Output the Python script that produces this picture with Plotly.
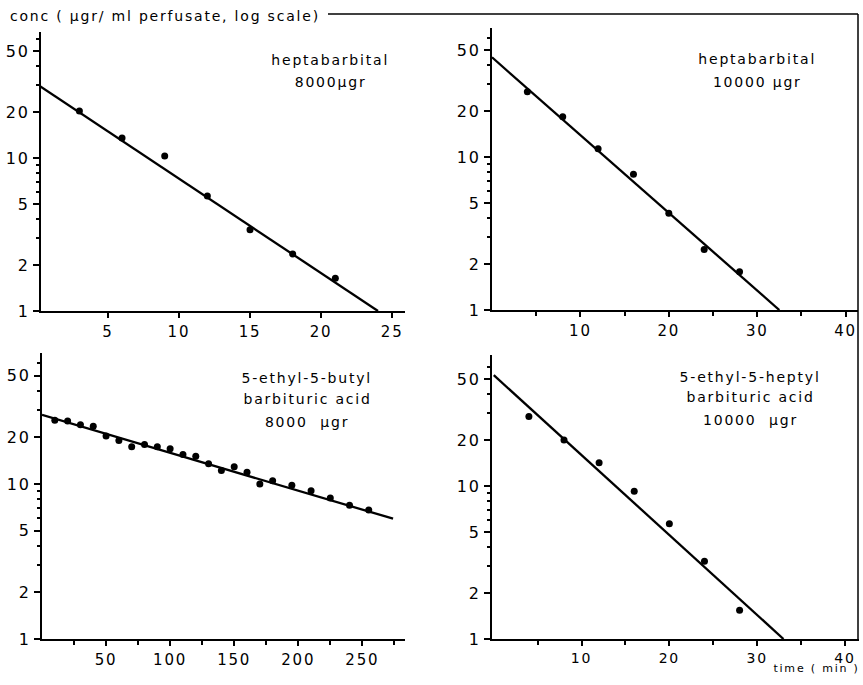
import plotly.graph_objects as go
from plotly.subplots import make_subplots

# Panel data (time, conc in ugr/ml)
hb8_time = [3, 6, 9, 12, 15, 18, 21]
hb8_conc = [20.3, 13.5, 10.3, 5.65, 3.4, 2.36, 1.64]
hb8_fit_time = [0, 24]
hb8_fit_conc = [30.5, 1.0]

hb10_time = [4, 8, 12, 16, 20, 24, 28]
hb10_conc = [26.7, 18.3, 11.3, 7.7, 4.29, 2.49, 1.78]
hb10_fit_time = [0, 32.5]
hb10_fit_conc = [44.8, 1.0]

eb_time = [10, 20, 30, 40, 50, 60, 70, 80, 90, 100, 110, 120, 130, 140,
           150, 160, 170, 180, 195, 210, 225, 240, 255]
eb_conc = [25.8, 25.5, 24.1, 23.6, 20.4, 19.1, 17.4, 18.0, 17.4, 16.9, 15.5,
           15.1, 13.5, 12.2, 12.9, 11.9, 10.0, 10.5, 9.8, 9.06, 8.12, 7.28, 6.8]
eb_fit_time = [0, 274]
eb_fit_conc = [27.9, 5.97]

eh_time = [4, 8, 12, 16, 20, 24, 28]
eh_conc = [28.4, 20.0, 14.2, 9.23, 5.67, 3.22, 1.54]
eh_fit_time = [0, 33]
eh_fit_conc = [53, 1.0]

panel_labels = [
    ["heptabarbital", "8000\u00b5gr"],
    ["heptabarbital", "10000 \u00b5gr"],
    ["5-ethyl-5-butyl", "barbituric acid", "8000  \u00b5gr"],
    ["5-ethyl-5-heptyl", "barbituric acid", "10000  \u00b5gr"],
]

y_major = [1, 2, 5, 10, 20, 50]
y_minor = [3, 4, 6, 7, 8, 9, 30, 40, 60]

# the figure fills the window; the visible drawing area is about 863 x 675
W, H = 863, 675
FONT = "DejaVu Sans"


def px(x):
    return x / W


def py(y):
    return 1 - y / H


fig = make_subplots(rows=2, cols=2)

series = [
    (hb8_time, hb8_conc, hb8_fit_time, hb8_fit_conc, 1, 1),
    (hb10_time, hb10_conc, hb10_fit_time, hb10_fit_conc, 1, 2),
    (eb_time, eb_conc, eb_fit_time, eb_fit_conc, 2, 1),
    (eh_time, eh_conc, eh_fit_time, eh_fit_conc, 2, 2),
]
for t, c, ft, fc, r, col in series:
    fig.add_trace(go.Scatter(x=ft, y=fc, mode="lines",
                             line=dict(color="black", width=2.3)), row=r, col=col)
    fig.add_trace(go.Scatter(x=t, y=c, mode="markers",
                             marker=dict(color="black", size=7)), row=r, col=col)

# pixel frames of each panel: (left, right, bottom, top), x range, y log range,
# labelled and minor x ticks, x tick label size
frames = [
    ((41, 405, 311, 32), [0.3, 25.9], [0, 1.824], [5, 10, 15, 20, 25], [], 15),
    ((492, 858, 310, 28), [0, 41.4], [0, 1.843], [10, 20, 30, 40], [5, 15, 25, 35], 15),
    ((42, 405, 639, 353), [0, 283.3], [0, 1.845], [50, 100, 150, 200, 250],
     [25, 75, 125, 175, 225, 275], 15),
    ((492, 859, 639, 355), [-0.2, 41.6], [0, 1.856], [10, 20, 30, 40], [5, 15, 25, 35], 14),
]

axis_style = dict(showgrid=False, zeroline=False, showline=True, linecolor="black",
                  linewidth=2, ticks="outside", tickcolor="black", tickwidth=1.5)

for i, ((l, r, b, t), xr, yr, xt, xm, fs) in enumerate(frames, start=1):
    sfx = "" if i == 1 else str(i)
    fig.layout["xaxis" + sfx].update(
        domain=[px(l), px(r)], range=xr, tickvals=xt, ticklen=5,
        minor=dict(tickvals=xm, ticks="outside", ticklen=4, tickcolor="black", tickwidth=1.5),
        ticklabelstandoff=1 if fs == 15 else 0,
        tickfont=dict(family=FONT, size=fs, color="black"), **axis_style)
    fig.layout["yaxis" + sfx].update(
        domain=[py(b), py(t)], type="log", range=yr, tickvals=y_major,
        ticktext=[str(v) for v in y_major], ticklen=6,
        minor=dict(tickvals=y_minor, ticks="outside", ticklen=3, tickcolor="black", tickwidth=1.5),
        ticklabelstandoff=0, tickfont=dict(family=FONT, size=16, color="black"),
        **axis_style)

# compound labels inside each panel
label_pos = [
    (330, [60, 82]),
    (757, [59, 82]),
    (307, [378, 399, 422]),
    (750, [377, 397, 420]),
]
annotations = []
for lines, (cx, ys) in zip(panel_labels, label_pos):
    for text, yy in zip(lines, ys):
        annotations.append(dict(x=px(cx), y=py(yy), xref="paper", yref="paper",
                                text=text, showarrow=False, xanchor="center",
                                yanchor="middle",
                                font=dict(family=FONT, size=14, color="black")))

annotations.append(dict(x=px(8), y=py(16), xref="paper", yref="paper",
                        text="conc ( \u00b5gr/ ml perfusate, log scale)", showarrow=False,
                        xanchor="left", yanchor="middle",
                        font=dict(family=FONT, size=14, color="black")))
annotations.append(dict(x=px(862), y=py(677), xref="paper", yref="paper",
                        text="time ( min )", showarrow=False,
                        xanchor="right", yanchor="bottom",
                        font=dict(family=FONT, size=11, color="black")))

# frame line running from the title along the top and down the right side
shapes = [
    dict(type="line", xref="paper", yref="paper", x0=px(328), x1=px(858),
         y0=py(14), y1=py(14), line=dict(color="black", width=1.5)),
    dict(type="line", xref="paper", yref="paper", x0=px(858), x1=px(858),
         y0=py(14), y1=py(639), line=dict(color="black", width=1.5)),
]

fig.update_layout(autosize=True, margin=dict(l=0, r=0, t=0, b=0),
                  paper_bgcolor="white", plot_bgcolor="white", showlegend=False,
                  annotations=annotations, shapes=shapes)

# fill the window exactly, then widen the lettering a little like the
# stencil type of the original (title keeps its left edge, time label its right)
post = """
var gd = document.getElementById('{plot_id}');
document.documentElement.style.overflow = 'hidden';
document.body.style.margin = '0';
document.body.style.overflow = 'hidden';
function widen(t, keep) {
    var b0 = t.getBBox();
    t.style.letterSpacing = '1.8px';
    var b1 = t.getBBox();
    var dx = 0;
    if (keep === 'left') dx = b0.x - b1.x;
    if (keep === 'right') dx = (b0.x + b0.width) - (b1.x + b1.width);
    if (dx) t.setAttribute('x', parseFloat(t.getAttribute('x') || 0) + dx);
}
function widenAll() {
    gd.querySelectorAll('svg text').forEach(function (t) { widen(t, null); });
    var title = gd.querySelector('g.annotation[data-index="10"] text');
    var xlab = gd.querySelector('g.annotation[data-index="11"] text');
    if (title) { title.style.letterSpacing = ''; widen(title, 'left'); }
    if (xlab) { xlab.style.letterSpacing = ''; widen(xlab, 'right'); }
}
Plotly.Plots.resize(gd).then(widenAll);
"""

fig.write_html("out.html", default_width="100vw", default_height="100vh",
               config={"displayModeBar": False}, post_script=post)
